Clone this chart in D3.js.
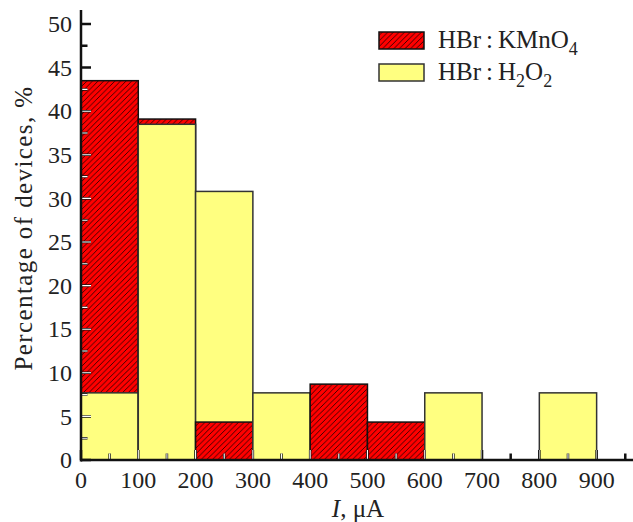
<!DOCTYPE html>
<html>
    <head>
        <script src="https://cdn.jsdelivr.net/npm/d3@7"></script>
        <style>
            body {
                margin: 0;
                overflow: hidden;
                background: #fff;
            }
            text {
                font-family: 'Liberation Serif', 'DejaVu Serif', serif;
                fill: #222;
            }
        </style>
    </head>
    <body>
        <script>
            // bins of current, uA
            const binStarts = [0, 100, 200, 300, 400, 500, 600, 700, 800];
            const binWidth = 100;
            // percentage of devices per bin
            const kmno4 = [43.5, 39.1, 4.35, 0, 8.7, 4.35, 0, 0, 0];
            const h2o2 = [7.7, 38.5, 30.8, 7.7, 0, 0, 7.7, 0, 7.7];
            const xTicks = [0, 100, 200, 300, 400, 500, 600, 700, 800, 900];
            const yTicks = [0, 5, 10, 15, 20, 25, 30, 35, 40, 45, 50];

            const width = 633;
            const height = 522;
            const margin = { left: 81, right: 2, top: 10, bottom: 62 };

            const svg = d3.select('body').append('svg').attr('width', width).attr('height', height);

            const x = d3.scaleLinear().domain([0, 960]).range([margin.left, width - margin.right]);
            const y = d3.scaleLinear().domain([0, 50]).range([460, 24]);

            const defs = svg.append('defs');
            const hs = 5.6;
            const pat = defs.append('pattern').attr('id', 'hatch').attr('patternUnits', 'userSpaceOnUse').attr('width', hs).attr('height', hs);
            pat.append('rect').attr('width', hs).attr('height', hs).attr('fill', '#ff0000');
            pat.append('path')
                .attr('d', `M-1,1 l2,-2 M0,${hs} l${hs},${-hs} M${hs - 1},${hs + 1} l2,-2`)
                .attr('stroke', '#000')
                .attr('stroke-width', 0.75);

            // build bar list, larger value drawn first so the smaller sits in front
            const bars = [];
            binStarts.forEach((b, i) => {
                const pair = [
                    { x0: b, v: kmno4[i], fill: 'url(#hatch)', stroke: '#111' },
                    { x0: b, v: h2o2[i], fill: '#ffff80', stroke: '#333' },
                ].filter((d) => d.v > 0);
                pair.sort((a, c) => c.v - a.v);
                pair.forEach((d) => bars.push(d));
            });

            const clip = defs.append('clipPath').attr('id', 'barclip');
            clip.selectAll('rect')
                .data(bars)
                .enter()
                .append('rect')
                .attr('x', (d) => x(d.x0))
                .attr('y', (d) => y(d.v))
                .attr('width', (d) => x(d.x0 + binWidth) - x(d.x0))
                .attr('height', (d) => y(0) - y(d.v));

            svg.append('g')
                .selectAll('rect')
                .data(bars)
                .enter()
                .append('rect')
                .attr('x', (d) => x(d.x0))
                .attr('y', (d) => y(d.v))
                .attr('width', (d) => x(d.x0 + binWidth) - x(d.x0))
                .attr('height', (d) => y(0) - y(d.v))
                .attr('fill', (d) => d.fill)
                .attr('stroke', (d) => d.stroke)
                .attr('stroke-width', 1.5);

            // inward ticks
            const yMinor = d3.range(0, 51, 2.5);
            const xMinor = d3.range(0, 951, 50);
            let tickPath = '';
            yMinor.forEach((v) => {
                const len = v % 5 === 0 ? 10 : 6.5;
                tickPath += `M${x(0)},${y(v)}h${len}`;
            });
            xMinor.forEach((v) => {
                const len = v % 100 === 0 ? 10 : 6.5;
                tickPath += `M${x(v)},${y(0)}v${-len}`;
            });
            svg.append('path').attr('d', tickPath).attr('stroke', '#111').attr('stroke-width', 2.5).attr('fill', 'none');
            svg.append('path').attr('d', tickPath).attr('stroke', '#fff').attr('stroke-width', 1.1).attr('fill', 'none').attr('clip-path', 'url(#barclip)');

            // axis lines
            svg.append('line').attr('x1', x(0)).attr('x2', x(0)).attr('y1', margin.top).attr('y2', y(0) + 1.5).attr('stroke', '#111').attr('stroke-width', 2.5);
            svg.append('line').attr('x1', x(0)).attr('x2', width).attr('y1', y(0)).attr('y2', y(0)).attr('stroke', '#111').attr('stroke-width', 2.5);

            // tick labels
            svg.append('g')
                .selectAll('text')
                .data(yTicks)
                .enter()
                .append('text')
                .attr('x', x(0) - 9)
                .attr('y', (d) => y(d))
                .attr('dy', '0.34em')
                .attr('text-anchor', 'end')
                .style('font-size', '24px')
                .text((d) => d);
            svg.append('g')
                .selectAll('text')
                .data(xTicks)
                .enter()
                .append('text')
                .attr('x', (d) => x(d))
                .attr('y', 488)
                .attr('text-anchor', 'middle')
                .style('font-size', '24px')
                .text((d) => d);

            // axis titles
            svg.append('text')
                .attr('transform', 'translate(32,228) rotate(-90)')
                .attr('text-anchor', 'middle')
                .style('font-size', '25px')
                .style('letter-spacing', '1.4px')
                .text('Percentage of devices, %');
            const xt = svg.append('text').attr('x', 358).attr('y', 517).attr('text-anchor', 'middle').style('font-size', '25px');
            xt.append('tspan').style('font-style', 'italic').text('I');
            xt.append('tspan').text(', μA');

            // legend
            const legend = svg.append('g');
            legend.append('rect').attr('x', 379).attr('y', 32).attr('width', 45).attr('height', 17).attr('fill', 'url(#hatch)').attr('stroke', '#111').attr('stroke-width', 1.5);
            legend.append('rect').attr('x', 379).attr('y', 64).attr('width', 45).attr('height', 17).attr('fill', '#ffff80').attr('stroke', '#333').attr('stroke-width', 1.5);
            const l1 = legend.append('text').attr('x', 438).attr('y', 48).style('font-size', '25px');
            l1.append('tspan').text('HBr\u2009:\u2009KMnO');
            l1.append('tspan').attr('dy', 7).style('font-size', '18px').text('4');
            const l2 = legend.append('text').attr('x', 438).attr('y', 80).style('font-size', '25px');
            l2.append('tspan').text('HBr\u2009:\u2009H');
            l2.append('tspan').attr('dy', 7).style('font-size', '18px').text('2');
            l2.append('tspan').attr('dy', -7).text('O');
            l2.append('tspan').attr('dy', 7).style('font-size', '18px').text('2');
        </script>
    </body>
</html>
